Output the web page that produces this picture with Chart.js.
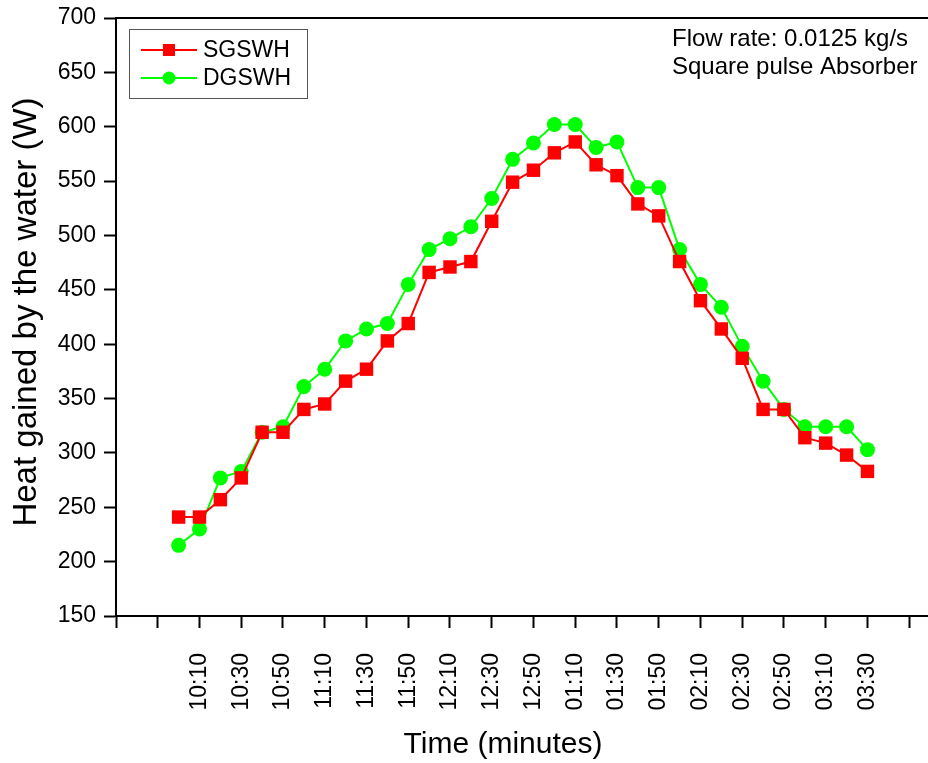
<!DOCTYPE html>
<html><head><meta charset="utf-8">
<script src="https://cdn.jsdelivr.net/npm/chart.js@4.4.0/dist/chart.umd.min.js"></script>
<style>html,body{margin:0;padding:0;background:#fff;}#wrap{width:928px;height:763px;position:relative;}</style>
</head><body><div id="wrap"><canvas id="c" width="928" height="763"></canvas></div>
<script>
// ---- data ----
const times = ['10:00','10:10','10:20','10:30','10:40','10:50','11:00','11:10','11:20','11:30','11:40','11:50',
  '12:00','12:10','12:20','12:30','12:40','12:50','01:00','01:10','01:20','01:30','01:40','01:50',
  '02:00','02:10','02:20','02:30','02:40','02:50','03:00','03:10','03:20','03:30'];
const sgswh = [241,241,257,277,319,319,340,345,366,377,403,419,466,471,476,513,549,560,576,586,565,555,529,518,476,440,414,387,340,340,314,309,298,283];
const dgswh = [215,230,277,283,319,324,361,377,403,414,419,455,487,497,508,534,570,585,602,602,581,586,544,544,487,455,434,398,366,340,324,324,324,303];
const xTickLabels = ['10:10','10:30','10:50','11:10','11:30','11:50','12:10','12:30','12:50','01:10','01:30','01:50','02:10','02:30','02:50','03:10','03:30'];
const yTickLabels = ['150','200','250','300','350','400','450','500','550','600','650','700'];
const seriesNames = ['SGSWH','DGSWH'];
const xTitle = 'Time (minutes)';
const yTitle = 'Heat gained by the water (W)';
const noteLines = ['Flow rate: 0.0125 kg/s','Square pulse Absorber'];

// ---- helpers ----
function toMin(s){ let [h,m]=s.split(':').map(Number); if(h<9) h+=12; return h*60+m; }
function fmt(v){ let h=Math.floor(v/60), m=Math.round(v%60); if(h>12) h-=12; return String(h).padStart(2,'0')+':'+String(m).padStart(2,'0'); }
const FONT = "'Liberation Sans', Arial, sans-serif";
const RED = '#ff0000', GREEN = '#00ff00';
const X_MIN = toMin('09:30'), X_MAX = X_MIN + 389;

const overlay = {
  id: 'overlay',
  afterDraw(chart){
    const ctx = chart.ctx, a = chart.chartArea;
    ctx.save();
    // top frame line
    ctx.strokeStyle = '#000'; ctx.lineWidth = 2;
    ctx.beginPath(); ctx.moveTo(a.left, a.top); ctx.lineTo(a.right, a.top); ctx.stroke();
    // axis titles
    ctx.fillStyle = '#000';
    ctx.textAlign = 'center'; ctx.textBaseline = 'middle';
    ctx.font = '30px ' + FONT;
    ctx.fillText(xTitle, 503, 745);
    ctx.font = '33px ' + FONT;
    ctx.save(); ctx.translate(27, 312); ctx.rotate(-Math.PI/2); ctx.fillText(yTitle, 0, 0); ctx.restore();
    // legend box
    ctx.strokeStyle = '#555'; ctx.lineWidth = 1;
    ctx.strokeRect(129.5, 29.5, 178, 69);
    const rows = [50, 78];
    chart.data.datasets.forEach((ds, i) => {
      const y = rows[i];
      ctx.strokeStyle = ds.borderColor; ctx.lineWidth = 2;
      ctx.beginPath(); ctx.moveTo(141, y); ctx.lineTo(197, y); ctx.stroke();
      ctx.fillStyle = ds.borderColor;
      if (ds.pointStyle === 'rect') { ctx.fillRect(163, y-6, 12, 12); }
      else { ctx.beginPath(); ctx.arc(169, y, 6.5, 0, Math.PI*2); ctx.fill(); }
      ctx.fillStyle = '#000'; ctx.font = '23px ' + FONT;
      ctx.textAlign = 'left'; ctx.textBaseline = 'middle';
      ctx.fillText(ds.label, 203, y + 1);
    });
    // note
    ctx.font = '24px ' + FONT; ctx.textAlign = 'left'; ctx.fillStyle = '#000';
    ctx.fillText(noteLines[0], 672, 39);
    ctx.fillText(noteLines[1], 672, 67);
    ctx.restore();
  }
};

new Chart(document.getElementById('c'), {
  type: 'line',
  data: {
    datasets: [
      { label: seriesNames[0], data: times.map((t,i)=>({x: toMin(t), y: sgswh[i]})),
        borderColor: RED, backgroundColor: RED, borderWidth: 2, pointStyle: 'rect',
        pointRadius: 9.5, pointBorderWidth: 0, pointBackgroundColor: RED, tension: 0 },
      { label: seriesNames[1], data: times.map((t,i)=>({x: toMin(t), y: dgswh[i]})),
        borderColor: GREEN, backgroundColor: GREEN, borderWidth: 2, pointStyle: 'circle',
        pointRadius: 7.5, pointBorderWidth: 0, pointBackgroundColor: GREEN, tension: 0 }
    ]
  },
  options: {
    responsive: false, animation: false, devicePixelRatio: 1,
    layout: { autoPadding: false, padding: { top: 18, right: 0, left: 0, bottom: 0 } },
    plugins: { legend: { display: false }, tooltip: { enabled: false } },
    scales: {
      x: {
        type: 'linear', min: X_MIN, max: X_MAX,
        afterBuildTicks: (s) => { const t=[]; for (let v=X_MIN; v<=X_MAX; v+=20) t.push({value:v}); s.ticks = t; },
        afterFit: (s) => { s.height = 147; s.paddingLeft = 0; s.paddingRight = 0; },
        grid: { drawOnChartArea: false, tickLength: 12, tickWidth: 2, tickColor: '#000' },
        border: { display: true, color: '#000', width: 2 },
        ticks: { autoSkip: false, minRotation: 90, maxRotation: 90, padding: 25, color: '#000',
          font: { family: FONT, size: 23 },
          callback: (v) => { const l = fmt(v); return xTickLabels.includes(l) ? l : ''; } }
      },
      y: {
        min: 150, max: 700,
        afterFit: (s) => { s.width = 116; s.paddingTop = 0; s.paddingBottom = 0; },
        grid: { drawOnChartArea: false, tickLength: 12, tickWidth: 2, tickColor: '#000' },
        border: { display: true, color: '#000', width: 2 },
        ticks: { stepSize: 25, padding: 8, color: '#000', font: { family: FONT, size: 23 },
          callback: (v) => yTickLabels.includes(String(v)) ? String(v) : '' }
      }
    }
  },
  plugins: [overlay]
});
</script></body></html>
